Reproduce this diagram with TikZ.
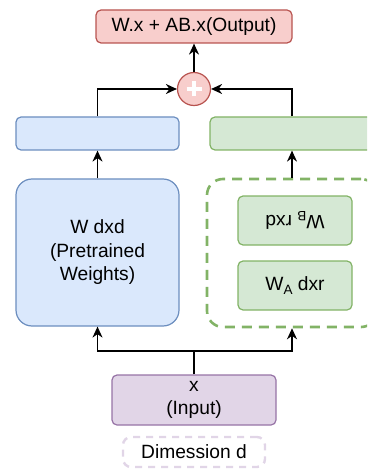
\documentclass[tikz,border=0pt]{standalone}
\usepackage{fontspec}
\setmainfont{Liberation Sans}
\usetikzlibrary{arrows.meta}
\definecolor{bfill}{HTML}{DAE8FC}\definecolor{bline}{HTML}{6C8EBF}
\definecolor{gfill}{HTML}{D5E8D4}\definecolor{gline}{HTML}{82B366}
\definecolor{rfill}{HTML}{F8CECC}\definecolor{rline}{HTML}{B85450}
\definecolor{pfill}{HTML}{E1D5E7}\definecolor{pline}{HTML}{9673A6}
\begin{document}
\begin{tikzpicture}[x=1pt,y=-1pt,
  box/.style={draw, line width=1.2pt, rounded corners=5pt, inner sep=0pt, align=center,
     font=\fontsize{19.2}{23.5}\selectfont},
  conn/.style={line width=1.5pt, -{Stealth[length=11pt,width=10pt,inset=3.5pt]}},
  plain/.style={line width=1.5pt}]
\useasboundingbox (0,0) rectangle (367,470);
\clip (0,0) rectangle (367,470);
\node[box, fill=rfill, draw=rline, minimum width=196pt, minimum height=33pt] (out) at (194,26.5) {W.x + AB.x(Output)};
\node[circle, draw=rline, fill=rfill, line width=1.2pt, minimum size=33pt, inner sep=0pt] (plus) at (194,89) {};
\draw[white, line width=3.6pt] ([xshift=-7.5pt]plus.center) -- ([xshift=7.5pt]plus.center);
\draw[white, line width=3.6pt] ([yshift=-7.5pt]plus.center) -- ([yshift=7.5pt]plus.center);
\node[box, fill=bfill, draw=bline, minimum width=163pt, minimum height=33pt] (btop) at (97.5,133.5) {};
\node[box, fill=gfill, draw=gline, minimum width=164pt, minimum height=33pt] (gtop) at (292,133.5) {};
\node[box, fill=bfill, draw=bline, rounded corners=16pt, minimum width=163pt, minimum height=147pt] (W) at (97.5,252.5) {W dxd\\(Pretrained\\Weights)};
\node[draw=gline, line width=2.6pt, dash pattern=on 10pt off 7pt, rounded corners=16pt, minimum width=170pt, minimum height=148pt, inner sep=0pt] (lora) at (292,253) {};
\node[box, fill=gfill, draw=gline, minimum width=114pt, minimum height=49pt] (WB) at (295,220.5) {};
\node[rotate=180, font=\fontsize{19.2}{23.5}\selectfont, inner sep=0pt] (WBt) at (WB.center) {W\raisebox{-0.4ex}{\fontsize{13.5}{13.5}\selectfont B} rxd};
\node[box, fill=gfill, draw=gline, minimum width=114pt, minimum height=49pt] (WA) at (295,285.5) {W\raisebox{-0.4ex}{\fontsize{13.5}{13.5}\selectfont A} dxr};
\node[box, fill=pfill, draw=pline, minimum width=164pt, minimum height=50pt] (inp) at (194,400) {x\\(Input)};
\node[box, fill=white, draw=pfill, line width=2.4pt, dash pattern=on 7pt off 6pt, rounded corners=8pt, minimum width=142pt, minimum height=30pt] (dim) at (194,452) {Dimession d};
\coordinate (j) at (194,351);
\coordinate (jl) at (97.5,351);
\coordinate (jr) at (292,351);
\coordinate (tl) at (97.5,89);
\coordinate (tr) at (292,89);
\draw[plain] (inp.north) -- (j);
\draw[conn] (j) -- (jl) -- (W.south);
\draw[conn] (j) -- (jr) -- (lora.south);
\draw[conn] (W.north) -- (btop.south);
\draw[conn] (lora.north) -- (gtop.south);
\draw[conn] (btop.north) -- (tl) -- (plus.west);
\draw[conn] (gtop.north) -- (tr) -- (plus.east);
\draw[conn] (plus.north) -- (out.south);
\end{tikzpicture}
\end{document}
